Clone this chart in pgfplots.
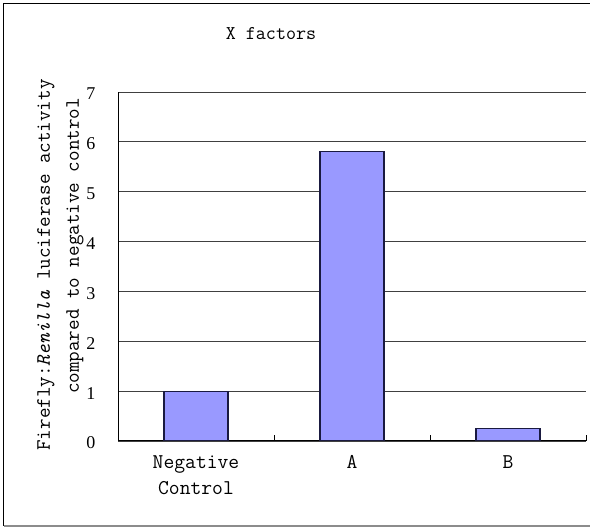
\documentclass[border=0pt]{standalone}
\usepackage{fontspec}
\setmainfont{Liberation Serif}
\usepackage{pgfplots}
\pgfplotsset{compat=1.18}
\definecolor{barfill}{HTML}{9999FF}
\definecolor{barline}{HTML}{1A1A40}
\begin{document}
\begin{tikzpicture}[x=1pt,y=1pt]
\useasboundingbox (0,0) rectangle (591,529);
\draw[black, line width=1.5pt] (3.5,3) -- (3.5,525.5) -- (590,525.5);
\draw[black!45, line width=1.2pt] (3.5,3) -- (590,3);
\begin{axis}[
  at={(118pt,88pt)}, anchor=south west, scale only axis,
  width=468pt, height=349pt,
  xmin=-0.5, xmax=2.5, ymin=0, ymax=7, enlargelimits=false,
  axis x line=bottom, axis y line=left,
  axis line style={-, line width=1pt, black},
  ybar, bar width=64pt,
  ytick={0,1,2,3,4,5,6,7}, ymajorgrids,
  grid style={line width=0.9pt, black!75},
  xtick={0,1,2}, xticklabels={{Negative\\Control},A,B},
  minor xtick={0.5,1.5,2.5},
  major tick length=0pt, minor tick length=6pt, tick align=inside,
  tick style={black, line width=1pt},
  /pgf/number format/assume math mode=true,
  xticklabel style={align=center, font=\ttfamily\fontsize{21}{26}\selectfont, yshift=-11pt},
  yticklabel style={font=\fontsize{18}{18}\selectfont, xshift=-19pt, yshift=-2pt},
]
\addplot[draw=barline, fill=barfill, line width=1.1pt] coordinates {(0,1.0) (1,5.8) (2,0.25)};
\end{axis}
\node[font=\ttfamily\fontsize{19.5}{19.5}\selectfont] at (271,495) {X factors};
\node[rotate=90, font=\ttfamily\fontsize{20.5}{20.5}\selectfont] at (46,264) {Firefly:\textit{Renilla} luciferase activity};
\node[rotate=90, font=\ttfamily\fontsize{20.5}{20.5}\selectfont] at (75,283) {compared to negative control};
\end{tikzpicture}
\end{document}
